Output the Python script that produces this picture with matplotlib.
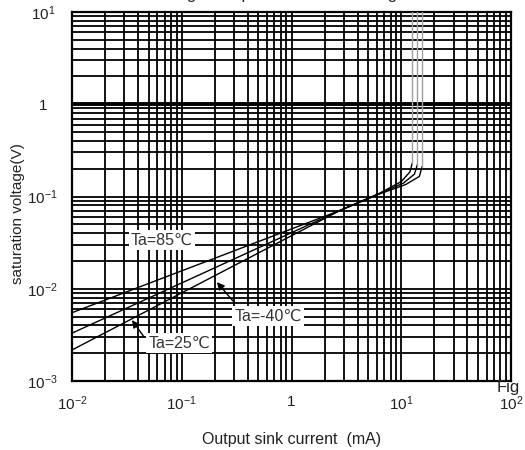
import matplotlib
matplotlib.use("Agg")
import matplotlib.pyplot as plt
from matplotlib.ticker import LogLocator, FixedLocator, FixedFormatter, NullFormatter

plt.rcParams['font.family'] = ['Liberation Sans', 'DejaVu Sans']
plt.rcParams['mathtext.fontset'] = 'custom'
plt.rcParams['mathtext.rm'] = 'Liberation Sans'

# ---- data ----
current_85 = [0.01, 2.8, 6.4, 10.0, 12.0, 12.6, 12.6]
volt_85 = [0.0055, 0.071, 0.109, 0.145, 0.185, 0.23, 10.0]
current_25 = [0.01, 2.8, 6.4, 10.5, 13.2, 14.0, 14.0]
volt_25 = [0.0033, 0.071, 0.108, 0.140, 0.175, 0.22, 10.0]
current_m40 = [0.01, 2.8, 6.4, 11.0, 14.6, 15.5, 15.5]
volt_m40 = [0.00217, 0.071, 0.107, 0.135, 0.165, 0.21, 10.0]

x_ticks = [0.01, 0.1, 1, 10, 100]
x_tick_labels = [r'$\mathregular{10^{-2}}$', r'$\mathregular{10^{-1}}$', '1',
                 r'$\mathregular{10^{1}}$', r'$\mathregular{10^{2}}$']
y_ticks = [0.001, 0.01, 0.1, 1, 10]
y_tick_labels = [r'$\mathregular{10^{-3}}$', r'$\mathregular{10^{-2}}$',
                 r'$\mathregular{10^{-1}}$', '1', r'$\mathregular{10^{1}}$']

labels = ['Ta=85℃', 'Ta=25℃', 'Ta=-40℃']
label_pos = [(0.066, 0.0337), (0.0944, 0.00258), (0.61, 0.00507)]
arrow_tips = [None, (0.0352, 0.00458), (0.209, 0.0118)]
arrow_tails = [None, (0.0453, 0.0030), (0.293, 0.00736)]

fig = plt.figure(figsize=(5.25, 4.5), dpi=100)
ax = fig.add_axes([72/525, 1-381/450, (511-72)/525, (381-12)/450])
ax.set_xscale('log')
ax.set_yscale('log')
ax.set_xlim(0.01, 100)
ax.set_ylim(0.001, 10)

ax.xaxis.set_major_locator(FixedLocator(x_ticks))
ax.xaxis.set_major_formatter(FixedFormatter(x_tick_labels))
ax.yaxis.set_major_locator(FixedLocator(y_ticks))
ax.yaxis.set_major_formatter(FixedFormatter(y_tick_labels))
ax.xaxis.set_minor_locator(LogLocator(base=10, subs=range(2, 10)))
ax.yaxis.set_minor_locator(LogLocator(base=10, subs=range(2, 10)))
ax.xaxis.set_minor_formatter(NullFormatter())
ax.yaxis.set_minor_formatter(NullFormatter())

ax.grid(which='both', color='black', lw=1.3, zorder=1)
ax.axhline(1, color='black', lw=2.8, zorder=1)
ax.set_axisbelow(True)
for s in ax.spines.values():
    s.set_linewidth(1.6)
    s.set_color('black')

ax.tick_params(which='both', length=0)
ax.tick_params(axis='x', pad=10, labelsize=11, labelcolor='#222222')
ax.tick_params(axis='y', pad=21, labelsize=11, labelcolor='#222222')
for lbl in ax.get_yticklabels():
    lbl.set_horizontalalignment('center')

series = [(current_85, volt_85), (current_25, volt_25), (current_m40, volt_m40)]
for cur, v in series:
    ax.plot(cur[:-1], v[:-1], color='black', lw=1.0, zorder=3)
    ax.plot(cur[-2:], v[-2:], color='#a0a0a0', lw=1.0, zorder=3)

for txt, (lx, ly) in zip(labels, label_pos):
    ax.text(lx, ly, txt, ha='center', va='center', fontsize=11.5, color='#333333',
            bbox=dict(boxstyle='square,pad=0.15', fc='white', ec='none'), zorder=5)

for tip, tail in zip(arrow_tips, arrow_tails):
    if tip is None:
        continue
    ax.annotate('', xy=tip, xytext=tail,
                arrowprops=dict(arrowstyle='-|>', color='black', lw=1.0,
                                mutation_scale=11, shrinkA=0, shrinkB=0),
                zorder=6)

ax.set_xlabel('Output sink current  (mA)', fontsize=11.5, color='#222222', labelpad=13)
fig.text(18/525, 1-214/450, 'saturation voltage(V)', rotation=90, ha='center',
         va='center', fontsize=11, color='#222222')
fig.text(290/525, 1 + 0.5/450, 'Fig.7 Output Saturation Voltage', ha='center',
         va='baseline', fontsize=12, color='#222222')
fig.text(497/525, 1-380/450, 'Fig', ha='left', va='top', fontsize=12, color='#222222')

fig.savefig('out.png', dpi=100)
